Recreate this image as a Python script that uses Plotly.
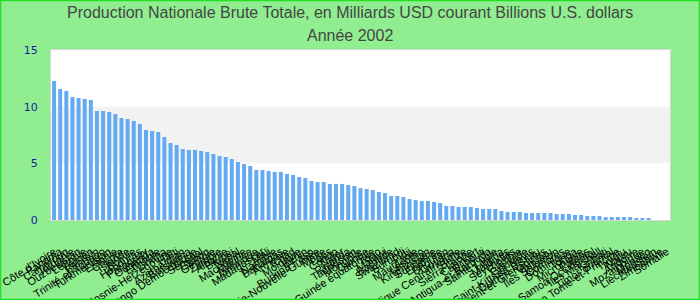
import plotly.graph_objects as go

countries = [
    "Côte d'Ivoire", "Panama", "Cameroun", "Jordanie", "Ouzbékistan", "Lettonie", "Yémen",
    "Bahreïn", "Trinité-et-Tobago", "Turkménistan", "Estonie", "Chypre", "Islande", "Bolivie",
    "Honduras", "Paraguay", "Ouganda", "Éthiopie", "Ghana", "Bosnie-Herzégovine", "Haïti",
    "Azerbaïdjan", "Botswana", "Congo Démocratique", "Sénégal", "Gabon", "Géorgie", "Zambie",
    "Albanie", "Brunei", "Népal", "Macédoine", "Maurice", "Jamaïque", "Madagascar", "Mali",
    "Namibie", "Bahamas", "Arménie", "Tchad", "Moldavie", "Bénin", "Burkina Faso",
    "Papouasie-Nouvelle-Guinée", "Malte", "Laos", "Congo", "Niger", "Rwanda", "Tadjikistan",
    "Mongolie", "Guinée", "Guinée équatoriale", "Togo", "Malawi", "Barbade", "Swaziland",
    "Burundi", "Fidji", "Mauritanie", "Lesotho", "Kirghizistan", "Suriname", "Érythrée",
    "Bhoutan", "Guyana", "République Centrafricaine", "Belize", "Sierra Leone", "Cap-Vert",
    "Djibouti", "Antigua-et-Barbuda", "Sainte-Lucie", "Libéria", "Maldives", "Seychelles",
    "Gambie", "Grenade", "Saint-Kitts-et-Nevis", "Guinée-Bissau", "Saint-Vincent-et-Grenadines",
    "Vanuatu", "Îles Salomon", "Comores", "Dominique", "Tonga", "Micronésie", "Palaos",
    "Samoa Occidental", "Îles Marshall", "Kiribati", "Timor oriental", "Sao Tome-et-Principe",
    "Tuvalu", "Nauru", "Andorre", "Mozambique", "Monaco", "Liechtenstein", "Zimbabwe", "Somalie",
]

values = [
    12.26, 11.56, 11.38, 10.85, 10.76, 10.68, 10.59, 9.62, 9.62, 9.53,
    9.35, 9.00, 8.91, 8.74, 8.47, 7.94, 7.85, 7.76, 7.32, 6.79,
    6.62, 6.26, 6.18, 6.18, 6.09, 6.00, 5.82, 5.65, 5.56, 5.38,
    5.12, 4.94, 4.76, 4.41, 4.41, 4.32, 4.24, 4.24, 4.06, 3.97,
    3.79, 3.71, 3.44, 3.35, 3.35, 3.18, 3.18, 3.18, 3.09, 3.00,
    2.82, 2.74, 2.65, 2.47, 2.38, 2.12, 2.12, 2.03, 1.85, 1.76,
    1.68, 1.68, 1.59, 1.50, 1.24, 1.24, 1.15, 1.15, 1.15, 1.06,
    0.97, 0.97, 0.97, 0.79, 0.71, 0.71, 0.71, 0.62, 0.62, 0.62,
    0.62, 0.62, 0.53, 0.53, 0.53, 0.44, 0.44, 0.35, 0.35, 0.35,
    0.26, 0.26, 0.26, 0.26, 0.26, 0.18, 0.09, 0.09, 0.0, 0.0, 0.0,
]

y_ticks = [0, 5, 10, 15]
title_lines = ["Production Nationale Brute Totale, en Milliards USD courant Billions U.S. dollars",
               "Année 2002"]

W, H = 700, 300
ML, MR, MT, MB = 51, 30, 50, 80
pw, ph = W - ML - MR, H - MT - MB

fig = go.Figure()
fig.add_trace(go.Bar(x=countries, y=values, marker=dict(color="#63aaf2", line=dict(width=0)),
                     hoverinfo="x+y"))

# alternating band 5-10
fig.add_shape(type="rect", xref="paper", yref="y", x0=0, x1=1, y0=5, y1=10,
              fillcolor="#f2f2f2", line=dict(width=0), layer="below")
# outer green border
fig.add_shape(type="rect", xref="paper", yref="paper",
              x0=(-ML + 0.5) / pw, x1=(pw + MR - 0.5) / pw,
              y0=(-MB + 0.5) / ph, y1=(ph + MT - 0.5) / ph,
              line=dict(color="#22e022", width=1.5), fillcolor="rgba(0,0,0,0)", layer="above")

# title lines as annotations (centered over the page)
title_centers_px = [13, 35]
for txt, cy in zip(title_lines, title_centers_px):
    fig.add_annotation(text=txt, xref="paper", yref="paper",
                       x=(W / 2 - ML) / pw, y=1 + (MT - cy) / ph,
                       xanchor="center", yanchor="middle", showarrow=False,
                       font=dict(family="Liberation Sans, Arial", size=16, color="#454545"))

fig.update_layout(
    width=W, height=H,
    margin=dict(l=ML, r=MR, t=MT, b=MB, autoexpand=False),
    paper_bgcolor="#90ee90",
    plot_bgcolor="white",
    showlegend=False,
    bargap=0.35,
    xaxis=dict(type="category", tickmode="array", tickvals=countries, ticktext=countries,
               tickangle=-33, tickfont=dict(family="Liberation Sans, Arial", size=11, color="black"),
               showline=True, linecolor="#d6d6d6", linewidth=1, mirror=True,
               showgrid=False, ticks="outside", ticklen=20, tickcolor="rgba(0,0,0,0)",
               automargin=False),
    yaxis=dict(range=[0, 15], tickvals=y_ticks, showgrid=False, zeroline=False,
               tickfont=dict(family="DejaVu Sans", size=11, color="#1a1a9c"),
               showline=True, linecolor="#d6d6d6", linewidth=1, mirror=True,
               ticks="", ticklabelstandoff=10, automargin=False),
)

fig.write_html("out.html")
